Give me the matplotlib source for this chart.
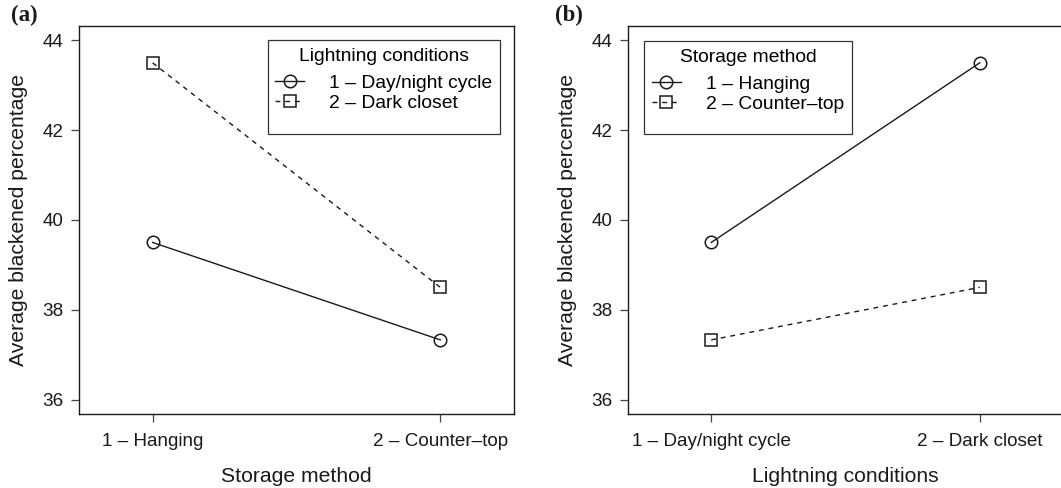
import matplotlib.pyplot as plt
from matplotlib.lines import Line2D
from matplotlib.patches import Rectangle

# cell means of blackened percentage, storage method x lighting condition
storage_labels = ["1 – Hanging", "2 – Counter–top"]
light_labels = ["1 – Day/night cycle", "2 – Dark closet"]
day_night = [39.5, 37.33]      # hanging, counter-top
dark_closet = [43.5, 38.5]     # hanging, counter-top
hanging = [day_night[0], dark_closet[0]]
counter_top = [day_night[1], dark_closet[1]]

plt.rcParams["font.family"] = ["Liberation Sans", "DejaVu Sans"]
INK = "#1a1a1a"
TICK_FS = 13.6
LAB_FS = 15.2
LEG_FS = 13.9

W, H = 1061, 488
fig = plt.figure(figsize=(W / 100, H / 100), dpi=100)


def px_axes(left, top, right, bottom):
    return fig.add_axes([left / W, 1 - bottom / H, (right - left) / W, (bottom - top) / H])


def draw_panel(ax, xlabels, series, xlim, xlabel, legend_title, legend_labels, box, tag, tag_x):
    x = [1, 2]
    styles = [("-", "o"), ((0, (3.5, 3.5)), "s")]
    handles = []
    for (ls, mk), vals, lab in zip(styles, series, legend_labels):
        ax.plot(x, vals, color=INK, lw=1.0, linestyle=ls, marker=mk,
                markersize=9 if mk == "o" else 8.5, markerfacecolor="none",
                markeredgecolor=INK, markeredgewidth=1.1)
        handles.append(Line2D([], [], color=INK, lw=1.0, linestyle=ls, marker=mk,
                              markersize=9 if mk == "o" else 8.5, markerfacecolor="none",
                              markeredgecolor=INK, markeredgewidth=1.1, label=lab))

    ax.set_xlim(*xlim)
    ax.set_ylim(35.68, 44.32)
    ax.set_xticks(x)
    ax.set_xticklabels(xlabels, fontsize=TICK_FS)
    ax.set_yticks([36, 38, 40, 42, 44])
    ax.tick_params(axis="both", direction="out", length=5.8, width=0.9, color="#444444",
                   labelsize=TICK_FS, labelcolor=INK)
    ax.tick_params(axis="x", pad=8)
    ax.tick_params(axis="y", pad=5.5)
    for sp in ax.spines.values():
        sp.set_color(INK)
        sp.set_linewidth(1.0)
    ax.set_xlabel(xlabel, fontsize=LAB_FS, color=INK, labelpad=12)
    ax.set_ylabel("Average blackened percentage", fontsize=LAB_FS, color=INK, labelpad=10)

    # legend frame drawn separately so the box matches the layout
    l, t, r, b = box
    fig.patches.append(Rectangle((l / W, 1 - b / H), (r - l) / W, (b - t) / H,
                                 transform=fig.transFigure, fill=False,
                                 edgecolor="#333333", lw=0.9))
    leg = ax.legend(handles=handles, title=legend_title, loc="upper center",
                    bbox_to_anchor=((l + r) / 2 / W, 1 - (t + 2) / H),
                    bbox_transform=fig.transFigure, frameon=False,
                    fontsize=LEG_FS, title_fontsize=LEG_FS,
                    handlelength=1.5, handletextpad=1.3, labelspacing=0.12,
                    borderpad=0.3, borderaxespad=0)
    leg._legend_box.sep = 7

    fig.text(tag_x / W, 1 - 5 / H, tag, family=["Liberation Serif", "DejaVu Serif"],
             fontweight="bold", fontsize=16.5, va="top", ha="left", color=INK)


ax_a = px_axes(79, 26, 514, 414)
draw_panel(ax_a, storage_labels, [day_night, dark_closet], (0.744, 2.256),
           "Storage method", "Lightning conditions", light_labels,
           (268, 40, 500, 134), "(a)", 11)

ax_b = px_axes(628, 26, 1063, 414)
draw_panel(ax_b, light_labels, [hanging, counter_top], (0.69, 2.31),
           "Lightning conditions", "Storage method", storage_labels,
           (644, 41, 852, 134), "(b)", 555)

fig.savefig("out.png", dpi=100)
